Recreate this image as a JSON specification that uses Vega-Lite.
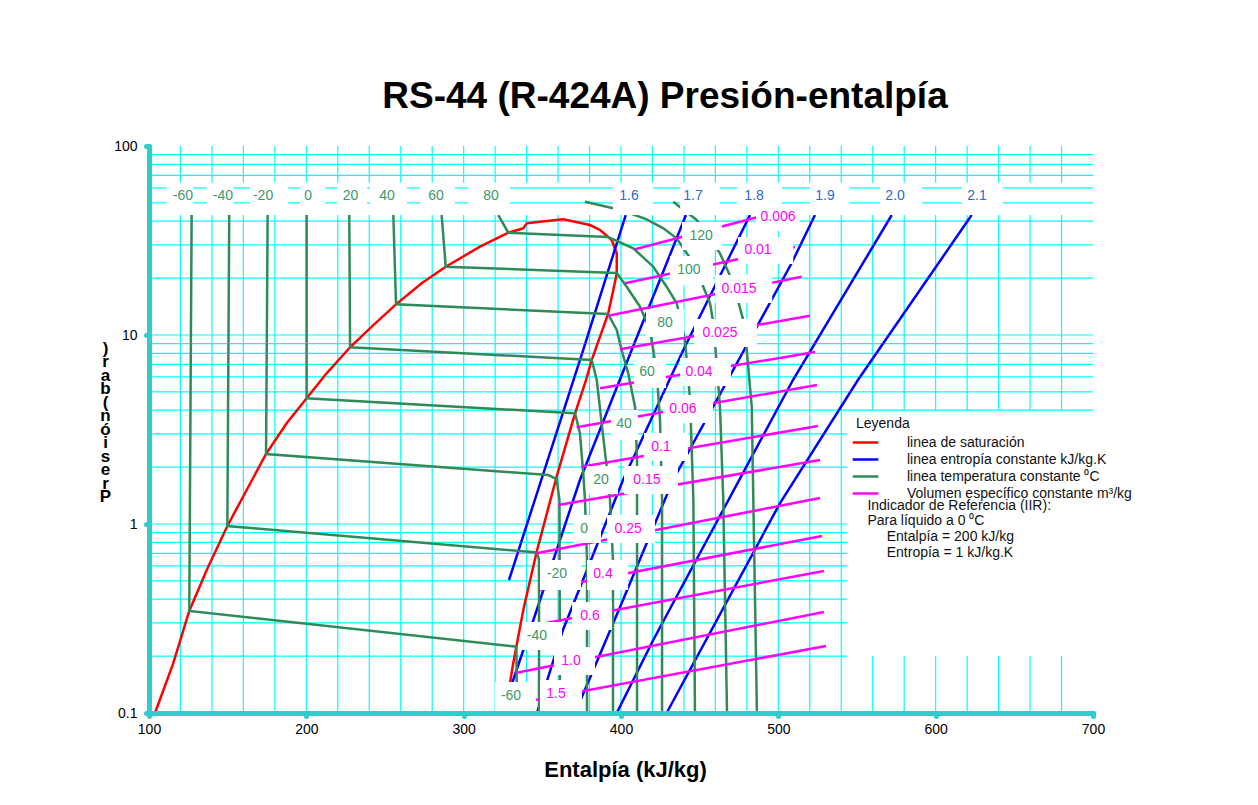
{
"$schema":"https://vega.github.io/schema/vega-lite/v6.json",
"width":944,"height":567,
"autosize":{"type":"none"},
"padding":{"left":149,"top":146,"right":165,"bottom":92},
"background":"white",
"config":{"view":{"stroke":null},"font":"Liberation Sans"},
"title":{"text":"RS-44 (R-424A) Presión-entalpía","font":"Liberation Sans","fontSize":37,"fontWeight":"bold","color":"#000000","anchor":"middle","dx":44,"offset":23},
"datasets":{
"vgrid":[
{"h":120,"p":0.1,"p2":43.14},{"h":120,"p":63.94,"p2":100},
{"h":140,"p":0.1,"p2":43.14},{"h":140,"p":63.94,"p2":100},
{"h":160,"p":0.1,"p2":43.14},{"h":160,"p":63.94,"p2":100},
{"h":180,"p":0.1,"p2":43.14},{"h":180,"p":63.94,"p2":100},
{"h":200,"p":0.1,"p2":43.14},{"h":200,"p":63.94,"p2":100},
{"h":220,"p":0.1,"p2":43.14},{"h":220,"p":63.94,"p2":100},
{"h":240,"p":0.1,"p2":43.14},{"h":240,"p":63.94,"p2":100},
{"h":260,"p":0.1,"p2":43.14},{"h":260,"p":63.94,"p2":100},
{"h":280,"p":0.1,"p2":43.14},{"h":280,"p":63.94,"p2":100},
{"h":300,"p":0.1,"p2":43.14},{"h":300,"p":63.94,"p2":100},
{"h":320,"p":0.1,"p2":43.14},{"h":320,"p":63.94,"p2":100},
{"h":340,"p":0.1,"p2":43.14},{"h":340,"p":63.94,"p2":100},
{"h":360,"p":0.1,"p2":43.14},{"h":360,"p":63.94,"p2":100},
{"h":380,"p":0.1,"p2":43.14},{"h":380,"p":63.94,"p2":100},
{"h":400,"p":0.1,"p2":43.14},{"h":400,"p":63.94,"p2":100},
{"h":420,"p":0.1,"p2":43.14},{"h":420,"p":63.94,"p2":100},
{"h":440,"p":0.1,"p2":43.14},{"h":440,"p":63.94,"p2":100},
{"h":460,"p":0.1,"p2":43.14},{"h":460,"p":63.94,"p2":100},
{"h":480,"p":0.1,"p2":43.14},{"h":480,"p":63.94,"p2":100},
{"h":500,"p":0.1,"p2":43.14},{"h":500,"p":63.94,"p2":100},
{"h":520,"p":0.1,"p2":43.14},{"h":520,"p":63.94,"p2":100},
{"h":540,"p":0.1,"p2":43.14},{"h":540,"p":63.94,"p2":100},
{"h":560,"p":0.1,"p2":0.2},{"h":560,"p":4,"p2":43.14},{"h":560,"p":63.94,"p2":100},
{"h":580,"p":0.1,"p2":0.2},{"h":580,"p":4,"p2":43.14},{"h":580,"p":63.94,"p2":100},
{"h":600,"p":0.1,"p2":0.2},{"h":600,"p":4,"p2":43.14},{"h":600,"p":63.94,"p2":100},
{"h":620,"p":0.1,"p2":0.2},{"h":620,"p":4,"p2":43.14},{"h":620,"p":63.94,"p2":100},
{"h":640,"p":0.1,"p2":0.2},{"h":640,"p":4,"p2":43.14},{"h":640,"p":63.94,"p2":100},
{"h":660,"p":0.1,"p2":0.2},{"h":660,"p":4,"p2":43.14},{"h":660,"p":63.94,"p2":100},
{"h":680,"p":0.1,"p2":0.2},{"h":680,"p":4,"p2":43.14},{"h":680,"p":63.94,"p2":100}
],
"hgrid":[
{"p":0.2,"h":100,"h2":544},{"p":0.3,"h":100,"h2":544},{"p":0.4,"h":100,"h2":544},{"p":0.5,"h":100,"h2":544},
{"p":0.6,"h":100,"h2":544},{"p":0.7,"h":100,"h2":544},{"p":0.8,"h":100,"h2":544},{"p":0.9,"h":100,"h2":544},
{"p":1,"h":100,"h2":544},{"p":2,"h":100,"h2":544},{"p":3,"h":100,"h2":544},
{"p":4,"h":100,"h2":700},{"p":5,"h":100,"h2":700},{"p":6,"h":100,"h2":700},{"p":7,"h":100,"h2":700},
{"p":8,"h":100,"h2":700},{"p":9,"h":100,"h2":700},{"p":10,"h":100,"h2":700},
{"p":20,"h":100,"h2":700},{"p":30,"h":100,"h2":700},{"p":40,"h":100,"h2":700},{"p":50,"h":100,"h2":700},
{"p":60,"h":100,"h2":700},{"p":70,"h":100,"h2":700},{"p":80,"h":100,"h2":700},{"p":90,"h":100,"h2":700}
],
"lines":[
{"k":"a","id":"sat","o":1,"h":103.8,"p":0.1},
{"k":"a","id":"sat","o":2,"h":115.4,"p":0.1832},
{"k":"a","id":"sat","o":3,"h":125.6,"p":0.3465},
{"k":"a","id":"sat","o":4,"h":136.7,"p":0.5709},
{"k":"a","id":"sat","o":5,"h":149.8,"p":0.976},
{"k":"a","id":"sat","o":6,"h":162.1,"p":1.513},
{"k":"a","id":"sat","o":7,"h":174.4,"p":2.347},
{"k":"a","id":"sat","o":8,"h":187.5,"p":3.41},
{"k":"a","id":"sat","o":9,"h":200.2,"p":4.626},
{"k":"a","id":"sat","o":10,"h":212.9,"p":6.27},
{"k":"a","id":"sat","o":11,"h":227.8,"p":8.61},
{"k":"a","id":"sat","o":12,"h":242.6,"p":11.29},
{"k":"a","id":"sat","o":13,"h":257.0,"p":14.53},
{"k":"a","id":"sat","o":14,"h":273.3,"p":18.77},
{"k":"a","id":"sat","o":15,"h":288.6,"p":22.98},
{"k":"a","id":"sat","o":16,"h":310.4,"p":29.33},
{"k":"a","id":"sat","o":17,"h":328.4,"p":34.78},
{"k":"a","id":"sat","o":18,"h":337.9,"p":36.69},
{"k":"a","id":"sat","o":19,"h":340.1,"p":38.99},
{"k":"a","id":"sat","o":20,"h":348.5,"p":39.78},
{"k":"a","id":"sat","o":21,"h":363.3,"p":40.95},
{"k":"a","id":"sat","o":22,"h":380.3,"p":38.19},
{"k":"a","id":"sat","o":23,"h":386.7,"p":35.94},
{"k":"a","id":"sat","o":24,"h":394.1,"p":31.81},
{"k":"a","id":"sat","o":25,"h":397.3,"p":27.06},
{"k":"a","id":"sat","o":26,"h":397.3,"p":21.21},
{"k":"a","id":"sat","o":27,"h":395.1,"p":17.3},
{"k":"a","id":"sat","o":28,"h":391.9,"p":13.02},
{"k":"a","id":"sat","o":29,"h":381.4,"p":7.375},
{"k":"a","id":"sat","o":30,"h":377.8,"p":5.78},
{"k":"a","id":"sat","o":31,"h":370.8,"p":3.853},
{"k":"a","id":"sat","o":32,"h":359.1,"p":1.78},
{"k":"a","id":"sat","o":33,"h":346.4,"p":0.7135},
{"k":"a","id":"sat","o":34,"h":337.9,"p":0.3508},
{"k":"a","id":"sat","o":35,"h":331.5,"p":0.1832},
{"k":"a","id":"sat","o":36,"h":326.3,"p":0.1},
{"k":"b","id":"s1.6","o":1,"h":403.0,"p":43.14},
{"k":"b","id":"s1.6","o":2,"h":376.0,"p":8.33},
{"k":"b","id":"s1.6","o":3,"h":328.8,"p":0.5055},
{"k":"b","id":"s1.7","o":1,"h":441.3,"p":43.14},
{"k":"b","id":"s1.7","o":2,"h":406.8,"p":8.33},
{"k":"b","id":"s1.7","o":3,"h":373.9,"p":1.709},
{"k":"b","id":"s1.7","o":4,"h":340.1,"p":0.2433},
{"k":"b","id":"s1.7","o":5,"h":324.4,"p":0.1},
{"k":"b","id":"s1.8","o":1,"h":482.0,"p":43.14},
{"k":"b","id":"s1.8","o":2,"h":439.6,"p":8.33},
{"k":"b","id":"s1.8","o":3,"h":401.3,"p":1.709},
{"k":"b","id":"s1.8","o":4,"h":363.1,"p":0.2749},
{"k":"b","id":"s1.8","o":5,"h":346.6,"p":0.1},
{"k":"b","id":"s1.9","o":1,"h":523.3,"p":43.14},
{"k":"b","id":"s1.9","o":2,"h":508.5,"p":24.04},
{"k":"b","id":"s1.9","o":3,"h":433.1,"p":1.709},
{"k":"b","id":"s1.9","o":4,"h":399.4,"p":0.3638},
{"k":"b","id":"s1.9","o":5,"h":370.8,"p":0.1},
{"k":"b","id":"s2.0","o":1,"h":572.1,"p":43.14},
{"k":"b","id":"s2.0","o":2,"h":509.3,"p":5.78},
{"k":"b","id":"s2.0","o":3,"h":420.5,"p":0.2433},
{"k":"b","id":"s2.0","o":4,"h":397.3,"p":0.1},
{"k":"b","id":"s2.1","o":1,"h":622.9,"p":43.14},
{"k":"b","id":"s2.1","o":2,"h":550.6,"p":5.78},
{"k":"b","id":"s2.1","o":3,"h":501.1,"p":1.291},
{"k":"b","id":"s2.1","o":4,"h":429.0,"p":0.1},
{"k":"c","id":"t-60","o":1,"h":127.1,"p":43.14},
{"k":"c","id":"t-60","o":2,"h":125.6,"p":0.3465},
{"k":"c","id":"t-60","o":3,"h":333.5,"p":0.2243},
{"k":"c","id":"t-60","o":4,"h":333.9,"p":0.1},
{"k":"c","id":"t-40","o":1,"h":151.0,"p":43.14},
{"k":"c","id":"t-40","o":2,"h":149.8,"p":0.976},
{"k":"c","id":"t-40","o":3,"h":346.6,"p":0.7066},
{"k":"c","id":"t-40","o":4,"h":347.9,"p":0.6449},
{"k":"c","id":"t-40","o":5,"h":347.9,"p":0.1},
{"k":"c","id":"t-20","o":1,"h":175.4,"p":43.14},
{"k":"c","id":"t-20","o":2,"h":174.4,"p":2.347},
{"k":"c","id":"t-20","o":3,"h":353.8,"p":1.816},
{"k":"c","id":"t-20","o":4,"h":359.1,"p":1.73},
{"k":"c","id":"t-20","o":5,"h":360.9,"p":1.34},
{"k":"c","id":"t-20","o":6,"h":361.2,"p":0.1},
{"k":"c","id":"t0","o":1,"h":200.2,"p":43.14},
{"k":"c","id":"t0","o":2,"h":200.2,"p":4.626},
{"k":"c","id":"t0","o":3,"h":370.8,"p":3.853},
{"k":"c","id":"t0","o":4,"h":373.9,"p":3.019},
{"k":"c","id":"t0","o":5,"h":376.0,"p":1.855},
{"k":"c","id":"t0","o":6,"h":377.1,"p":1.34},
{"k":"c","id":"t0","o":7,"h":378.4,"p":0.6449},
{"k":"c","id":"t0","o":8,"h":378.4,"p":0.1},
{"k":"c","id":"t20","o":1,"h":227.3,"p":43.14},
{"k":"c","id":"t20","o":2,"h":227.8,"p":8.61},
{"k":"c","id":"t20","o":3,"h":381.4,"p":7.375},
{"k":"c","id":"t20","o":4,"h":384.6,"p":5.78},
{"k":"c","id":"t20","o":5,"h":387.7,"p":3.41},
{"k":"c","id":"t20","o":6,"h":390.9,"p":2.011},
{"k":"c","id":"t20","o":7,"h":393.0,"p":1.34},
{"k":"c","id":"t20","o":8,"h":394.9,"p":0.6449},
{"k":"c","id":"t20","o":9,"h":394.9,"p":0.1},
{"k":"c","id":"t40","o":1,"h":255.3,"p":43.14},
{"k":"c","id":"t40","o":2,"h":257.0,"p":14.53},
{"k":"c","id":"t40","o":3,"h":391.7,"p":12.92},
{"k":"c","id":"t40","o":4,"h":397.3,"p":10.63},
{"k":"c","id":"t40","o":5,"h":400.4,"p":8.33},
{"k":"c","id":"t40","o":6,"h":404.6,"p":6.27},
{"k":"c","id":"t40","o":7,"h":408.9,"p":4.175},
{"k":"c","id":"t40","o":8,"h":410.2,"p":2.181},
{"k":"c","id":"t40","o":9,"h":410.2,"p":0.1},
{"k":"c","id":"t60","o":1,"h":286.0,"p":43.14},
{"k":"c","id":"t60","o":2,"h":288.6,"p":22.98},
{"k":"c","id":"t60","o":3,"h":397.3,"p":21.28},
{"k":"c","id":"t60","o":4,"h":403.6,"p":18.01},
{"k":"c","id":"t60","o":5,"h":412.1,"p":14.12},
{"k":"c","id":"t60","o":6,"h":418.4,"p":10.63},
{"k":"c","id":"t60","o":7,"h":420.5,"p":8.33},
{"k":"c","id":"t60","o":8,"h":422.7,"p":6.27},
{"k":"c","id":"t60","o":9,"h":424.8,"p":3.551},
{"k":"c","id":"t60","o":10,"h":426.1,"p":1.34},
{"k":"c","id":"t60","o":11,"h":426.1,"p":0.1},
{"k":"c","id":"t80","o":1,"h":322.0,"p":43.14},
{"k":"c","id":"t80","o":2,"h":328.4,"p":34.78},
{"k":"c","id":"t80","o":3,"h":391.7,"p":33.0},
{"k":"c","id":"t80","o":4,"h":407.8,"p":28.76},
{"k":"c","id":"t80","o":5,"h":420.5,"p":22.98},
{"k":"c","id":"t80","o":6,"h":429.0,"p":18.01},
{"k":"c","id":"t80","o":7,"h":435.4,"p":14.72},
{"k":"c","id":"t80","o":8,"h":440.7,"p":9.41},
{"k":"c","id":"t80","o":9,"h":443.9,"p":4.53},
{"k":"c","id":"t80","o":10,"h":446.0,"p":1.34},
{"k":"c","id":"t80","o":11,"h":447.0,"p":0.1},
{"k":"c","id":"t100","o":1,"h":377.1,"p":50.73},
{"k":"c","id":"t100","o":2,"h":395.1,"p":46.82},
{"k":"c","id":"t100","o":3,"h":403.6,"p":44.76},
{"k":"c","id":"t100","o":4,"h":416.3,"p":40.95},
{"k":"c","id":"t100","o":5,"h":426.9,"p":36.69},
{"k":"c","id":"t100","o":6,"h":435.4,"p":32.48},
{"k":"c","id":"t100","o":7,"h":441.8,"p":27.06},
{"k":"c","id":"t100","o":8,"h":448.1,"p":22.98},
{"k":"c","id":"t100","o":9,"h":452.3,"p":18.01},
{"k":"c","id":"t100","o":10,"h":456.6,"p":14.72},
{"k":"c","id":"t100","o":11,"h":458.7,"p":11.53},
{"k":"c","id":"t100","o":12,"h":460.1,"p":8.33},
{"k":"c","id":"t100","o":13,"h":462.9,"p":4.175},
{"k":"c","id":"t100","o":14,"h":465.0,"p":1.34},
{"k":"c","id":"t100","o":15,"h":467.4,"p":0.1},
{"k":"c","id":"t120","o":1,"h":433.2,"p":50.73},
{"k":"c","id":"t120","o":2,"h":448.1,"p":40.6},
{"k":"c","id":"t120","o":3,"h":462.9,"p":27.06},
{"k":"c","id":"t120","o":4,"h":471.4,"p":18.77},
{"k":"c","id":"t120","o":5,"h":477.7,"p":12.0},
{"k":"c","id":"t120","o":6,"h":479.9,"p":8.33},
{"k":"c","id":"t120","o":7,"h":483.1,"p":4.175},
{"k":"c","id":"t120","o":8,"h":484.1,"p":1.34},
{"k":"c","id":"t120","o":9,"h":486.4,"p":0.1},
{"k":"d","id":"v0.006","o":1,"h":408.9,"p":28.41},{"k":"d","id":"v0.006","o":2,"h":488.4,"p":42.36},
{"k":"d","id":"v0.01","o":1,"h":402.5,"p":18.77},{"k":"d","id":"v0.01","o":2,"h":510.6,"p":29.22},
{"k":"d","id":"v0.015","o":1,"h":391.9,"p":12.65},{"k":"d","id":"v0.015","o":2,"h":514.8,"p":20.35},
{"k":"d","id":"v0.025","o":1,"h":399.4,"p":8.4},{"k":"d","id":"v0.025","o":2,"h":520.1,"p":12.65},
{"k":"d","id":"v0.04","o":1,"h":386.7,"p":5.224},{"k":"d","id":"v0.04","o":2,"h":523.3,"p":8.13},
{"k":"d","id":"v0.06","o":1,"h":371.8,"p":3.248},{"k":"d","id":"v0.06","o":2,"h":524.6,"p":5.438},
{"k":"d","id":"v0.1","o":1,"h":375.0,"p":2.011},{"k":"d","id":"v0.1","o":2,"h":525.2,"p":3.3},
{"k":"d","id":"v0.15","o":1,"h":360.1,"p":1.26},{"k":"d","id":"v0.15","o":2,"h":526.5,"p":2.181},
{"k":"d","id":"v0.25","o":1,"h":346.4,"p":0.6998},{"k":"d","id":"v0.25","o":2,"h":526.5,"p":1.373},
{"k":"d","id":"v0.4","o":1,"h":348.5,"p":0.4474},{"k":"d","id":"v0.4","o":2,"h":527.8,"p":0.864},
{"k":"d","id":"v0.6","o":1,"h":342.2,"p":0.2886},{"k":"d","id":"v0.6","o":2,"h":529.0,"p":0.564},
{"k":"d","id":"v1.0","o":1,"h":333.7,"p":0.1634},{"k":"d","id":"v1.0","o":2,"h":529.0,"p":0.3423},
{"k":"d","id":"v1.5","o":1,"h":328.2,"p":0.1102},{"k":"d","id":"v1.5","o":2,"h":530.3,"p":0.2262}
],
"boxes":[
{"h":111.2,"h2":128.2,"p":43.14,"p2":63.94},
{"h":136.7,"h2":153.6,"p":43.14,"p2":63.94},
{"h":164.2,"h2":188.3,"p":43.14,"p2":63.94},
{"h":196.0,"h2":211.9,"p":43.14,"p2":63.94},
{"h":219.5,"h2":238.6,"p":43.14,"p2":63.94},
{"h":240.5,"h2":264.0,"p":43.14,"p2":63.94},
{"h":272.2,"h2":294.5,"p":43.14,"p2":63.94},
{"h":302.8,"h2":329.5,"p":43.14,"p2":63.94},
{"h":394.9,"h2":420.3,"p":43.14,"p2":63.94},
{"h":437.6,"h2":463.0,"p":43.14,"p2":63.94},
{"h":473.7,"h2":502.3,"p":43.14,"p2":63.94},
{"h":520.1,"h2":545.5,"p":43.14,"p2":63.94},
{"h":564.7,"h2":591.3,"p":43.14,"p2":63.94},
{"h":616.7,"h2":642.8,"p":43.14,"p2":63.94},
{"h":438.8,"h2":464.2,"p":28.17,"p2":39.62},
{"h":431.1,"h2":458.5,"p":18.39,"p2":26.18},
{"h":415.9,"h2":440.1,"p":9.759,"p2":13.73},
{"h":408.3,"h2":428.6,"p":5.244,"p2":7.556},
{"h":393.6,"h2":410.8,"p":2.783,"p2":4.011},
{"h":378.4,"h2":398.1,"p":1.441,"p2":2.027},
{"h":370.1,"h2":387.3,"p":0.7933,"p2":1.116},
{"h":348.5,"h2":374.6,"p":0.4474,"p2":0.6449},
{"h":337.1,"h2":362.5,"p":0.2154,"p2":0.303},
{"h":319.9,"h2":346.0,"p":0.1012,"p2":0.1459},
{"h":485.8,"h2":513.8,"p":35.5,"p2":49.33},
{"h":474.4,"h2":509.5,"p":23.75,"p2":33.0},
{"h":459.8,"h2":496.1,"p":14.77,"p2":20.77},
{"h":446.4,"h2":486.4,"p":8.64,"p2":12.15},
{"h":437.5,"h2":469.9,"p":5.374,"p2":7.556},
{"h":426.7,"h2":458.5,"p":3.422,"p2":4.814},
{"h":414.6,"h2":442.6,"p":2.154,"p2":3.03},
{"h":401.9,"h2":436.2,"p":1.441,"p2":2.027},
{"h":391.1,"h2":421.6,"p":0.7933,"p2":1.116},
{"h":378.4,"h2":404.5,"p":0.4474,"p2":0.6449},
{"h":368.9,"h2":394.3,"p":0.2749,"p2":0.3867},
{"h":357.4,"h2":383.5,"p":0.1589,"p2":0.2235},
{"h":348.5,"h2":375.2,"p":0.1012,"p2":0.1495}
],
"labels":[
{"t":"-60","k":"T","h":121.6,"p":54.37},{"t":"-40","k":"T","h":147.0,"p":54.37},{"t":"-20","k":"T","h":172.5,"p":54.37},
{"t":"0","k":"T","h":201.1,"p":54.37},{"t":"20","k":"T","h":228.1,"p":54.37},{"t":"40","k":"T","h":251.3,"p":54.37},
{"t":"60","k":"T","h":282.4,"p":54.37},{"t":"80","k":"T","h":317.4,"p":54.37},
{"t":"1.6","k":"S","h":405.1,"p":54.37},{"t":"1.7","k":"S","h":445.8,"p":54.37},{"t":"1.8","k":"S","h":484.6,"p":54.37},
{"t":"1.9","k":"S","h":529.7,"p":54.37},{"t":"2.0","k":"S","h":574.2,"p":54.37},{"t":"2.1","k":"S","h":626.3,"p":54.37},
{"t":"120","k":"T","h":450.9,"p":33.41},{"t":"100","k":"T","h":443.2,"p":22.07},{"t":"80","k":"T","h":428.0,"p":11.57},
{"t":"60","k":"T","h":416.5,"p":6.372},{"t":"40","k":"T","h":401.9,"p":3.381},{"t":"20","k":"T","h":387.3,"p":1.709},
{"t":"0","k":"T","h":376.5,"p":0.9408},{"t":"-20","k":"T","h":359.3,"p":0.5436},{"t":"-40","k":"T","h":346.6,"p":0.2555},
{"t":"-60","k":"T","h":330.1,"p":0.123},
{"t":"0.006","k":"V","h":499.8,"p":42.1},{"t":"0.01","k":"V","h":487.1,"p":28.17},{"t":"0.015","k":"V","h":475.0,"p":17.52},
{"t":"0.025","k":"V","h":462.9,"p":10.25},{"t":"0.04","k":"V","h":449.6,"p":6.372},{"t":"0.06","k":"V","h":439.4,"p":4.06},
{"t":"0.1","k":"V","h":425.4,"p":2.555},{"t":"0.15","k":"V","h":416.5,"p":1.709},{"t":"0.25","k":"V","h":404.5,"p":0.9408},
{"t":"0.4","k":"V","h":388.6,"p":0.5436},{"t":"0.6","k":"V","h":380.3,"p":0.326},{"t":"1.0","k":"V","h":368.2,"p":0.1884},
{"t":"1.5","k":"V","h":358.7,"p":0.126}
],
"notes":[
{"t":"Indicador de Referencia (IIR):","h":556.6,"p":1.245},
{"t":"Para líquido a 0 ⁰C","h":556.6,"p":1.041},
{"t":"Entalpía = 200 kJ/kg","h":568.9,"p":0.8565},
{"t":"Entropía   = 1 kJ/kg.K","h":568.9,"p":0.7047}
]
},
"encoding":{
"x":{"field":"h","type":"quantitative","scale":{"domain":[100,700],"nice":false,"zero":false},
"axis":{"values":[100,200,300,400,500,600,700],"grid":false,"zindex":1,"domainColor":"#33CCCC","domainWidth":5,"domainCap":"round","tickColor":"#33CCCC","tickWidth":5,"tickSize":3,"tickCap":"round","labelFont":"Liberation Sans","labelFontSize":14,"labelColor":"#000000","labelPadding":6,"labelFlush":false,"labelOverlap":false,"title":"Entalpía (kJ/kg)","titleFont":"Liberation Sans","titleFontSize":22,"titleFontWeight":"bold","titleColor":"#000000","titleX":476,"titleY":63,"titleBaseline":"alphabetic","titleAlign":"center"}},
"y":{"field":"p","type":"quantitative","scale":{"type":"log","domain":[0.1,100],"nice":false},
"axis":{"values":[0.1,1,10,100],"format":"~g","grid":false,"zindex":1,"domainColor":"#33CCCC","domainWidth":5,"domainCap":"round","tickColor":"#33CCCC","tickWidth":5,"tickSize":3,"tickCap":"round","labelFont":"Liberation Sans","labelFontSize":14,"labelColor":"#000000","labelPadding":9,"labelFlush":false,"labelOverlap":false,"title":[")","r","a","b","(","n","ó","i","s","e","r","P"],"titleFont":"Liberation Sans","titleFontSize":17,"titleFontWeight":"bold","titleColor":"#000000","titleAngle":0,"titleX":-44,"titleY":194,"titleBaseline":"top","titleAlign":"center","titleLineHeight":13.5}}
},
"layer":[
{"data":{"name":"vgrid"},"mark":{"type":"rule","color":"#00FFFF","strokeWidth":1.2},"encoding":{"y2":{"field":"p2"}}},
{"data":{"name":"hgrid"},"mark":{"type":"rule","color":"#00FFFF","strokeWidth":1.2},"encoding":{"x2":{"field":"h2"}}},
{"data":{"name":"lines"},"mark":{"type":"line","strokeWidth":2.5},"encoding":{
"color":{"field":"k","type":"nominal","scale":{"domain":["a","b","c","d"],"range":["#FF0000","#0000FF","#2E8B57","#FF00FF"]},
"legend":{"title":"Leyenda","orient":"none","legendX":707,"legendY":271,"padding":0,"rowPadding":0,"titlePadding":2,"symbolType":"M-1.6,0H1.6","symbolSize":256,"symbolStrokeWidth":2.5,"labelOffset":32,"labelFont":"Liberation Sans","labelFontSize":14,"labelColor":"#111111","titleFont":"Liberation Sans","titleFontSize":14,"titleFontWeight":"normal","titleColor":"#111111","labelLimit":400,
"labelExpr":"datum.label == 'a' ? 'linea de saturación' : datum.label == 'b' ? 'linea entropía constante kJ/kg.K' : datum.label == 'c' ? 'linea temperatura constante  ⁰C' : 'Volumen específico constante m³/kg'"}},
"detail":{"field":"id"},"order":{"field":"o"}}},
{"data":{"name":"boxes"},"mark":{"type":"rect","fill":"#FFFFFF"},"encoding":{"x2":{"field":"h2"},"y2":{"field":"p2"}}},
{"data":{"name":"labels"},"transform":[{"filter":"datum.k == 'T'"}],"mark":{"type":"text","color":"#3A9A68","fontSize":14,"font":"Liberation Sans"},"encoding":{"text":{"field":"t","type":"nominal"}}},
{"data":{"name":"labels"},"transform":[{"filter":"datum.k == 'S'"}],"mark":{"type":"text","color":"#2A6AD8","fontSize":14,"font":"Liberation Sans"},"encoding":{"text":{"field":"t","type":"nominal"}}},
{"data":{"name":"labels"},"transform":[{"filter":"datum.k == 'V'"}],"mark":{"type":"text","color":"#FF00FF","fontSize":14,"font":"Liberation Sans"},"encoding":{"text":{"field":"t","type":"nominal"}}},
{"data":{"name":"notes"},"mark":{"type":"text","align":"left","color":"#111111","fontSize":14,"font":"Liberation Sans"},"encoding":{"text":{"field":"t","type":"nominal"}}}
]
}
